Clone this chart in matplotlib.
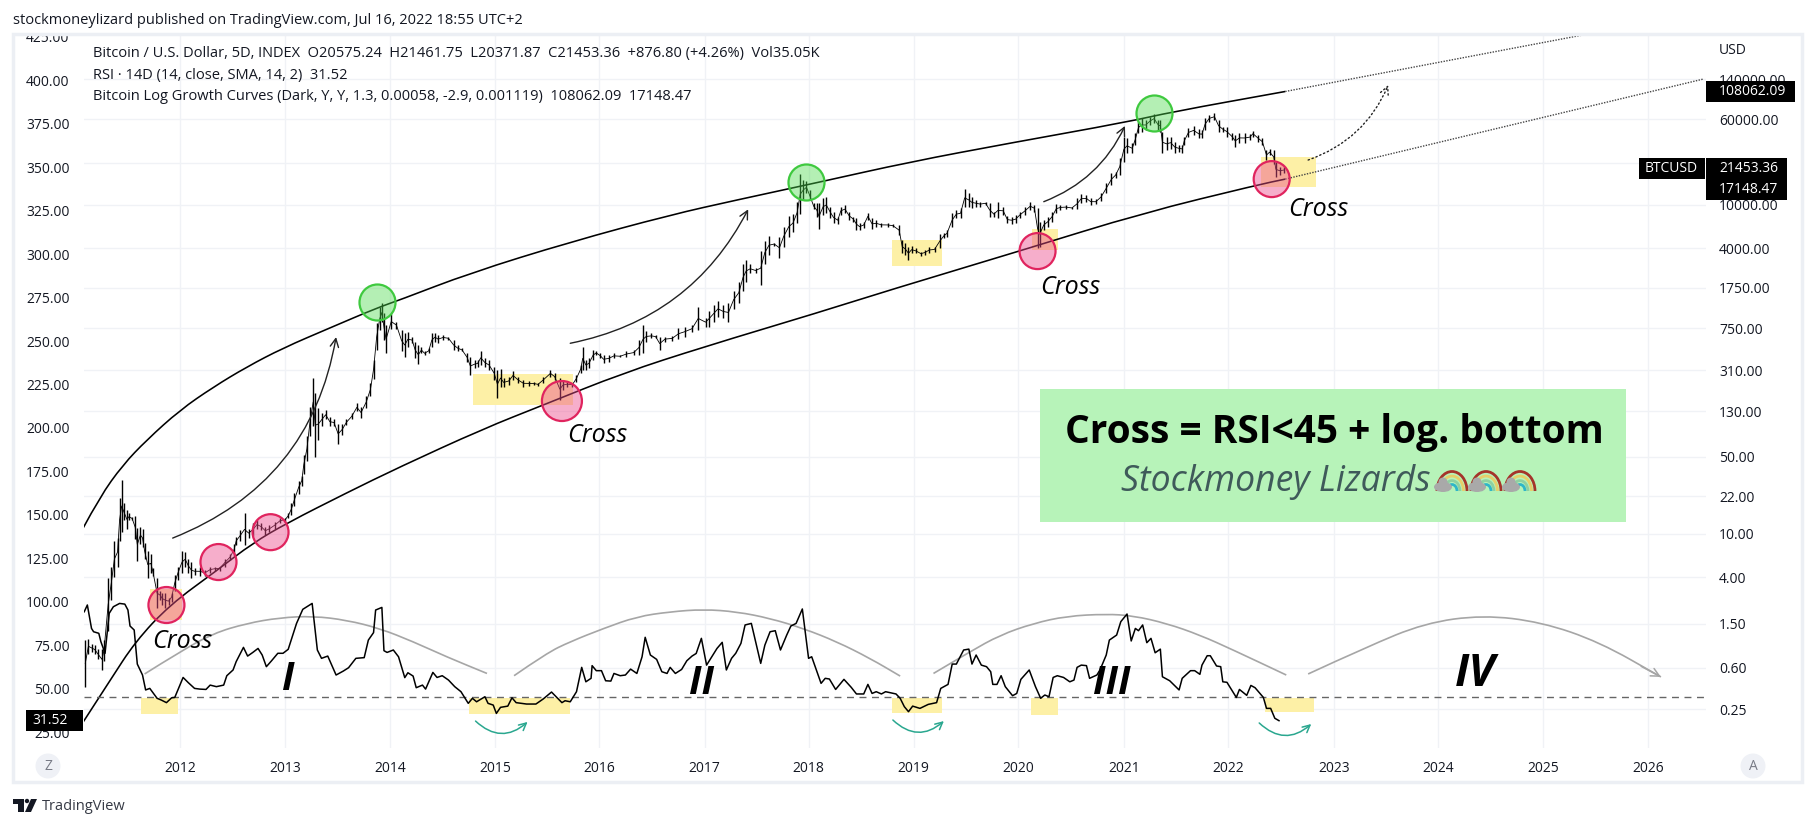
import numpy as np
import matplotlib
matplotlib.use("Agg")
import matplotlib.pyplot as plt
from matplotlib.path import Path
from matplotlib.patches import PathPatch, Rectangle, Circle, Ellipse, Arc, Polygon, FancyArrowPatch
from matplotlib.transforms import IdentityTransform

plt.rcParams['font.family'] = ['Open Sans', 'DejaVu Sans']

# bars: year, high, low (USD)
years_a = [2011.09,2011.12,2011.15,2011.18,2011.21,2011.25,2011.27,2011.31,2011.34,2011.37,2011.40,2011.42,2011.44,2011.46,2011.49,2011.51,2011.54,2011.57,2011.59,2011.62,2011.64,2011.66,2011.69,2011.72,2011.74,2011.78,2011.81,2011.83,2011.86,2011.89,2011.92,2011.95,2011.98,2012.02,2012.05,2012.08,2012.11,2012.14,2012.19,2012.24,2012.29,2012.34,2012.38,2012.43,2012.48,2012.52,2012.54,2012.58,2012.62,2012.66,2012.70,2012.74,2012.78,2012.82,2012.86,2012.91,2012.96,2013.01,2013.04,2013.07,2013.10,2013.14,2013.17,2013.19,2013.22,2013.25,2013.28,2013.30,2013.33,2013.36,2013.40,2013.44,2013.48,2013.52,2013.56,2013.60,2013.65,2013.70,2013.74,2013.79,2013.83,2013.86,2013.89,2013.92,2013.94,2013.96,2013.98,2014.03,2014.08]
high_a = [1.07,1.1,0.99,0.96,0.89,0.89,1.07,3.9,5.0,8.6,9.2,21,31,19,16.5,15.3,14.2,14.5,11.3,11.6,11,8.2,7,6.5,4.9,3.9,3.0,2.9,2.9,2.6,2.9,4.2,5.0,6.9,6.8,5.9,5.5,4.9,5,4.7,5,5,5,5.9,6.5,8.1,9.4,10.8,15.3,11.1,12.4,13.3,12.4,11.5,11.9,12.8,13.8,14,15.3,19,23.6,30.5,33.7,52,78,143,265,190,139,125,134,116,112,100,100,110,125,155,143,180,237,380,830,1170,1260,1020,800,1000,860]
low_a = [0.40,0.80,0.83,0.8,0.72,0.57,0.69,1.3,2.5,4.0,5,8.6,10.3,13.3,11,13.3,13.3,9,5.6,8.1,7.6,5.9,3.9,4.4,4.1,2.1,2.5,2.25,2.1,2.25,2.4,3.0,3.8,4.4,5,4.4,3.9,4.2,4.1,4.1,4.4,4.6,4.6,5,5.7,6.3,7.8,8.6,7.8,9.2,9.5,11,10.8,9.8,10.3,11.1,12.4,12.8,13.8,14.7,17.7,22.8,27.3,35,45.5,78,95,50,72,95,110,95,95,66,80,98,110,130,113,140,180,260,470,720,860,580,440,740,740]

years_b = [2014.13,2014.16,2014.19,2014.23,2014.26,2014.29,2014.32,2014.35,2014.39,2014.42,2014.45,2014.48,2014.53,2014.58,2014.63,2014.67,2014.71,2014.76,2014.79,2014.83,2014.86,2014.89,2014.93,2014.97,2015.02,2015.05,2015.08,2015.11,2015.16,2015.20,2015.25,2015.30,2015.35,2015.40,2015.44,2015.49,2015.56,2015.60,2015.65,2015.68,2015.72,2015.77,2015.81,2015.85,2015.87,2015.90,2015.93,2015.97,2016.00,2016.04,2016.07,2016.12,2016.17,2016.23,2016.29,2016.36,2016.41,2016.45,2016.48,2016.53,2016.57,2016.61,2016.66,2016.73,2016.79,2016.85,2016.92,2016.98,2017.05,2017.08,2017.13,2017.17,2017.22,2017.27,2017.32,2017.37,2017.41,2017.44,2017.48,2017.53,2017.58,2017.62,2017.66,2017.71,2017.76,2017.80,2017.85,2017.89,2017.93,2017.96,2017.99,2018.02,2018.05,2018.09,2018.12]
high_b = [720,671,695,626,565,525,507,459,490,671,680,650,650,626,584,525,490,441,411,383,383,467,397,383,333,311,315,262,270,305,270,252,248,243,238,270,311,290,262,252,243,238,280,345,507,383,397,473,467,441,425,425,441,425,467,473,584,800,700,670,650,620,626,635,745,772,800,1170,935,1080,1210,1330,1210,1260,1640,1980,2870,3130,2870,2670,3770,4690,5230,4520,5050,6315,7900,8190,10600,19000,17000,16400,13600,10300,10300]
low_b = [459,411,507,544,397,350,441,425,441,507,565,544,584,584,473,459,459,370,278,322,333,345,333,311,252,171,219,219,226,252,235,219,222,226,222,235,270,252,165,204,219,219,243,290,311,311,322,383,425,397,357,370,397,405,405,425,425,441,565,605,605,473,565,575,595,626,685,720,772,760,860,950,935,860,1130,1260,1640,1980,2370,2370,1850,2870,3500,4250,3250,4160,5050,5650,6800,8190,11000,12700,11000,9100,7700]

years_c = [2018.14,2018.18,2018.21,2018.25,2018.28,2018.32,2018.35,2018.39,2018.43,2018.47,2018.50,2018.53,2018.57,2018.61,2018.65,2018.69,2018.74,2018.80,2018.85,2018.91,2018.94,2018.97,2019.00,2019.03,2019.07,2019.12,2019.16,2019.20,2019.25,2019.30,2019.34,2019.37,2019.42,2019.46,2019.50,2019.54,2019.58,2019.61,2019.65,2019.69,2019.74,2019.78,2019.82,2019.86,2019.91,2019.95,2019.99,2020.03,2020.07,2020.12,2020.17,2020.21,2020.24,2020.26,2020.30,2020.34,2020.38,2020.42,2020.46,2020.51,2020.57,2020.62,2020.66,2020.71,2020.75,2020.80,2020.85,2020.90,2020.95,2020.99,2021.03,2021.07,2021.10,2021.15,2021.18,2021.21,2021.24,2021.28,2021.32,2021.36,2021.40,2021.42,2021.44,2021.48,2021.52,2021.56,2021.60,2021.63,2021.65,2021.69,2021.74,2021.79,2021.82,2021.85,2021.89,2021.94,2021.98,2022.02,2022.06,2022.11,2022.14,2022.18,2022.23,2022.28,2022.31,2022.36,2022.40,2022.44,2022.47,2022.51,2022.53,2022.57,2022.61]
high_c = [10320,11460,11870,9620,8660,7800,9620,9970,8660,7800,7530,6780,7020,8480,7530,7270,6880,6780,6650,6500,4780,4450,4150,4200,4000,3740,3870,4150,4100,5400,5490,5890,8360,8970,9300,13900,12730,11870,11070,10700,10700,10320,8660,10500,9620,7930,7800,8070,8660,9620,10500,9970,9300,7020,7270,7800,8660,10150,9970,9970,9620,11460,12500,12200,11460,11200,12730,15700,19370,20000,26540,41850,40400,36390,44880,57300,61500,59400,63000,67400,59400,59400,46500,41250,41850,37700,35100,35100,41850,49900,52500,48700,48100,61500,65800,68200,59400,51600,51600,44880,43400,44880,45500,44000,47400,43400,40400,31600,32100,31600,24750,22300,22300]
low_c = [5950,8070,8360,7530,6780,6700,8070,8360,7270,7020,5890,5890,6100,7270,5950,6320,6250,6320,6250,5300,3610,3490,3140,3610,3610,3430,3490,3610,3740,4000,4950,5120,6320,7530,7530,9620,9620,9300,9620,9620,9970,7800,7800,7530,8070,6780,6700,6780,7530,8070,8970,8660,4000,4150,5890,6320,7020,8360,8970,9100,9100,9100,10320,10700,9970,10150,10900,12730,15100,17400,18700,24750,29480,29480,35140,44880,46500,48100,53500,55400,48100,46500,29800,31400,32500,29800,30500,29800,35100,41850,43400,40400,40400,48100,57300,59400,46500,46500,41850,39020,33700,37000,36400,39020,41850,37700,35100,25600,28500,23550,17900,18700,19370]

bar_years = years_a + years_b + years_c
bar_high = high_a + high_b + high_c
bar_low = low_a + low_b + low_c

rsi_points = [(2011.08,94.2),(2011.11,98.1),(2011.15,84.6),(2011.17,82.7),(2011.22,81.8),(2011.24,77),(2011.28,70.3),(2011.30,81.8),(2011.32,93.3),(2011.36,97.1),(2011.42,99),(2011.47,98.6),(2011.50,95.2),(2011.52,86),(2011.56,83.7),(2011.59,64.1),(2011.64,57.8),(2011.67,49.2),(2011.71,50.1),(2011.78,44.4),(2011.82,43.4),(2011.87,41.9),(2011.92,44.7),(2011.95,44.9),(2011.98,49.2),
              (2012.03,56.4),(2012.08,53.4),(2012.14,50.1),(2012.19,49.7),(2012.25,49.5),(2012.29,52),(2012.35,51.1),(2012.42,52),(2012.45,57.4),(2012.51,60.7),(2012.54,65.5),(2012.61,73.7),(2012.65,68.7),(2012.70,70.8),(2012.75,73.1),(2012.79,69.3),(2012.83,62.6),(2012.88,66),(2012.94,70.3),(2012.99,70.3),
              (2013.04,72.6),(2013.09,81.8),(2013.12,87.5),(2013.18,95.6),(2013.27,99),(2013.32,72.2),(2013.36,67.4),(2013.42,68.7),(2013.50,57.8),(2013.57,60.1),(2013.62,62),(2013.69,67.4),(2013.77,67.8),(2013.81,77.9),(2013.86,82.2),(2013.88,95.2),(2013.94,96.7),(2013.96,71.8),(2013.99,70.8),
              (2014.05,72.2),(2014.10,68.3),(2014.16,56.3),(2014.19,59.1),(2014.24,57.2),(2014.27,50.5),(2014.33,52),(2014.36,49.7),(2014.43,59.3),(2014.47,56.4),(2014.52,57.4),(2014.58,54.9),(2014.64,51.1),(2014.70,48.2),(2014.77,41.5),(2014.81,44.4),(2014.85,42.4),(2014.93,45.3),(2014.96,41.5),
              (2015.01,40.5),(2015.04,35.7),(2015.08,39.2),(2015.15,39.9),(2015.19,44.7),(2015.23,41.9),(2015.33,41.1),(2015.42,41.1),(2015.49,44),(2015.57,48),(2015.67,41.9),(2015.70,43),(2015.75,42.4),(2015.81,48.2),(2015.86,62.2),(2015.90,53.9),(2015.95,55.9),(2015.96,63.2),
              (2016.00,60.3),(2016.05,60.3),(2016.09,54.5),(2016.14,54.3),(2016.17,58.7),(2016.23,57.4),(2016.28,57.8),(2016.33,61.2),(2016.39,58.7),(2016.44,68.3),(2016.47,79.5),(2016.52,69.3),(2016.58,66.8),(2016.63,59.7),(2016.68,58.7),(2016.71,62.2),(2016.76,58.7),(2016.82,61),(2016.87,66),(2016.92,68.7),(2016.96,70.2),
              (2017.01,78.9),(2017.06,63.5),(2017.16,73.1),(2017.21,76.6),(2017.25,60.7),(2017.30,67.4),(2017.34,70.3),(2017.39,76),(2017.43,86.6),(2017.49,87.5),(2017.58,64.5),(2017.62,75),(2017.67,82.7),(2017.72,83.3),(2017.77,72.2),(2017.83,80.8),(2017.87,86),(2017.92,87.5),(2017.98,95.8),
              (2018.04,67.4),(2018.07,68.3),(2018.16,53),(2018.20,55.9),(2018.24,55.5),(2018.30,49.5),(2018.38,55.3),(2018.45,50.7),(2018.50,46.9),(2018.57,46.9),(2018.61,52.4),(2018.65,47.2),(2018.69,48.2),(2018.74,46.9),(2018.78,48.2),(2018.88,46.9),(2018.92,44.4),(2018.96,39.6),
              (2019.00,36.7),(2019.04,39.9),(2019.11,38.6),(2019.19,40.9),(2019.27,41.9),(2019.31,50.1),(2019.38,52.4),(2019.42,64.1),(2019.46,64.1),(2019.53,72.2),(2019.58,72.7),(2019.61,64.1),(2019.65,69.3),(2019.70,63.5),(2019.75,62.6),(2019.79,59.7),(2019.81,52.4),(2019.85,52.4),(2019.89,57.4),(2019.93,51.1),
              (2020.00,45.9),(2020.04,47.2),(2020.08,55.3),(2020.16,60.7),(2020.22,51.1),(2020.27,44.4),(2020.31,46.3),(2020.35,45.3),(2020.39,56.4),(2020.43,57.4),(2020.49,56.4),(2020.55,53.9),(2020.59,54.9),(2020.62,62.2),(2020.66,63.5),(2020.71,63.2),(2020.74,55.9),(2020.81,57.8),(2020.84,60.7),(2020.90,69.3),(2020.93,77.9),
              (2021.00,80.8),(2021.04,88.5),(2021.10,92.9),(2021.14,77.4),(2021.18,84.6),(2021.21,83.3),(2021.25,86.6),(2021.29,76.4),(2021.33,78.9),(2021.37,70.6),(2021.42,72.7),(2021.44,56.8),(2021.51,54.5),(2021.60,49.2),(2021.63,55.9),(2021.71,60.3),(2021.75,60.3),(2021.80,58.2),(2021.82,63.5),(2021.87,68.9),(2021.90,68.9),(2021.96,63),
              (2022.00,62.6),(2022.02,53.9),(2022.06,53.6),(2022.15,44.9),(2022.18,49.5),(2022.25,46.1),(2022.29,51.8),(2022.33,50.5),(2022.41,44.9),(2022.44,38.6),(2022.48,38.6),(2022.52,32.9),(2022.56,31.52)]
rsi_level = 45

# log growth curves
upper_years = [2011.07,2011.23,2011.45,2011.68,2012.00,2012.32,2012.64,2012.99,2013.44,2013.89,2014.11,2014.79,2015.75,2016.71,2017.35,2018.15,2019.01,2019.98,2021.10,2021.53,2022.62]
upper_usd = [11.25,21.6,42.2,71.4,134,217,331,493,752,1143,1352,2388,4574,8070,11060,16140,24550,36600,56900,70300,108062]
lower_years = [2011.07,2011.33,2011.57,2011.90,2012.36,2012.70,2013.03,2013.60,2014.11,2014.91,2015.49,2016.26,2017.03,2018.15,2018.82,2020.10,2021.25,2022.35,2022.62]
lower_usd = [0.191,0.46,1.03,2.23,4.65,8.2,12.5,23.5,40.5,90,149,292,504,1051,1668,3868,8410,15150,17148]
upper_ext_years = [2022.62, 2025.53]
upper_ext_usd = [108062, 361600]
lower_ext_years = [2022.62, 2026.64]
lower_ext_usd = [17148, 140500]

# circles
green_years = [2013.89, 2018.02, 2021.36]
green_usd = [1297, 16140, 68800]
pink_years = [2011.87, 2012.37, 2012.87, 2015.67, 2020.24, 2022.49]
pink_usd = [2.23, 5.5, 10.3, 162, 3780, 17148]
pink_size = [672, 672, 672, 829, 672, 672]

# yellow zones: start, end, low, high
price_zones = [(2011.71, 2012.02, 1.63, 3.1), (2014.82, 2015.78, 149, 286), (2018.84, 2019.32, 2762, 4770),
               (2020.19, 2020.44, 3868, 6010), (2022.39, 2022.92, 14500, 27300)]
rsi_zones = [(2011.63, 2011.98, 35.4, 44.6), (2014.78, 2015.75, 35.4, 44.6), (2018.84, 2019.32, 36, 44.6),
             (2020.18, 2020.44, 35, 44.6), (2022.43, 2022.90, 36.5, 44.6)]

# grey arcs over the rsi
arc1_x = [2011.66,2012.00,2012.32,2012.64,2012.96,2013.28,2013.60,2013.92,2014.24,2014.56,2014.95]
arc1_y = [58.4,71.2,81.8,87.5,90.8,91.7,89.4,84.6,77,68.3,58.7]
arc2_x = [2015.21,2015.52,2015.75,2016.07,2016.39,2016.71,2017.03,2017.35,2017.67,2017.99,2018.31,2018.63,2018.92]
arc2_y = [57.4,70.3,77,84.6,91.4,94.2,95.6,94.2,90.4,84.6,77,67.4,57.2]
arc3_x = [2019.24,2019.59,2019.88,2020.20,2020.52,2020.90,2021.16,2021.48,2021.80,2022.12,2022.63]
arc3_y = [58.7,71.2,80.8,87.5,91.7,92.9,91.9,87.5,80.8,72.2,57.8]
arc4_x = [2022.84,2023.40,2023.96,2024.52,2025.08,2025.64,2026.23]
arc4_y = [58.4,73.9,87.7,92.3,88.3,76.8,56.7]

# teal swoops under the rsi zones
swoop_start = [(2014.84, 31.3), (2018.85, 31.9), (2022.37, 30.2)]
swoop_end = [(2015.34, 30.8), (2019.34, 31.3), (2022.87, 29.6)]

# hand drawn trend arrows
trend_start = [(2011.93, 9.1), (2015.75, 545), (2020.30, 10670), (2022.84, 25600)]
trend_end = [(2013.50, 621), (2017.46, 9100), (2021.08, 52400), (2023.61, 123900)]
trend_rad = [0.28, 0.24, 0.2, 0.22]

# the time axis is not quite even, so ticks sit where the chart puts them
year_labels = list(range(2012, 2027))
year_tick_pos = [2012.0,2013.01,2014.02,2015.03,2016.03,2017.04,2018.04,2019.05,2020.05,2021.07,2022.07,2023.09,2024.09,2025.10,2026.11]
rsi_ticks = list(range(25, 426, 25))
price_ticks = [0.25, 0.6, 1.5, 4, 10, 22, 50, 130, 310, 750, 1750, 4000, 10000, 24000, 60000, 140000]

W, H = 1814, 827
fig = plt.figure(figsize=(W / 100, H / 100), dpi=100, facecolor='white')
ink = '#131722'

# plot area in pixels: 83.5..1706 x 34.5..748
ax = fig.add_axes([83.5 / W, 1 - 748 / H, (1706 - 83.5) / W, (748 - 34.5) / H])
rsi = ax.twinx()
ax.set_yscale('log')
ax.set_xlim(2011.073, 2026.663)
ax.set_ylim(0.1106, 357800)
ax.yaxis.tick_right()
ax.set_yticks(price_ticks)
ax.set_yticklabels(['%.2f' % t for t in price_ticks])
ax.minorticks_off()
ax.set_xticks(year_tick_pos)
ax.set_xticklabels([str(y) for y in year_labels])
ax.tick_params(axis='y', length=0, pad=9.4, labelsize=10, labelcolor=ink)
ax.tick_params(axis='x', length=0, pad=9, labelsize=10, labelcolor=ink)
ax.grid(True, color='#f0f2f6', lw=1)
ax.set_axisbelow(True)
for s in ax.spines.values():
    s.set_visible(False)

rsi.set_ylim(15.8, 426.4)
rsi.yaxis.tick_left()
rsi.set_yticks(rsi_ticks)
rsi.set_yticklabels(['%.2f' % t for t in rsi_ticks])
rsi.tick_params(axis='y', length=0, pad=10, labelsize=10, labelcolor=ink)
rsi.patch.set_visible(False)
for s in rsi.spines.values():
    s.set_visible(False)


def curve(target, xs, ys, **kw):
    # smooth line through read points, drawn in screen space so log axes are fine
    pts = target.transData.transform(np.column_stack([xs, ys]))
    verts = [pts[0]]
    codes = [Path.MOVETO]
    for i in range(1, len(pts) - 1):
        verts += [pts[i], (pts[i] + pts[i + 1]) / 2]
        codes += [Path.CURVE3, Path.CURVE3]
    verts += [pts[-1]]
    codes += [Path.LINETO]
    patch = PathPatch(Path(np.array(verts), codes), fill=False, transform=IdentityTransform(), **kw)
    target.add_patch(patch)
    return patch


for x0, x1, lo, hi in price_zones:
    ax.add_patch(Rectangle((x0, lo), x1 - x0, hi - lo, color='#fdf0a6', lw=0, zorder=1))
for x0, x1, lo, hi in rsi_zones:
    rsi.add_patch(Rectangle((x0, lo), x1 - x0, hi - lo, color='#fdf0a6', lw=0, zorder=1))

# price bars
ax.vlines(bar_years, bar_low, bar_high, color='black', lw=1.0, zorder=3)
mid_price = np.sqrt(np.array(bar_high) * np.array(bar_low))
ax.plot(bar_years, mid_price, color='black', lw=0.6, zorder=3)

curve(ax, upper_years, upper_usd, color='black', lw=1.15, zorder=4)
curve(ax, lower_years, lower_usd, color='black', lw=1.15, zorder=4)
ax.plot(upper_ext_years, upper_ext_usd, color='#444444', lw=1, ls=(0, (1, 1)), zorder=4)
ax.plot(lower_ext_years, lower_ext_usd, color='#444444', lw=1, ls=(0, (1, 1)), zorder=4)

ax.scatter(green_years, green_usd, s=672, facecolor=(0.30, 0.85, 0.30, 0.42), edgecolor='#3fc93f', lw=1.6, zorder=5)
ax.scatter(pink_years, pink_usd, s=pink_size, facecolor=(0.93, 0.30, 0.55, 0.45), edgecolor='#e0245e', lw=1.6, zorder=5)

for i in range(4):
    dotted = i == 3
    ax.add_patch(FancyArrowPatch(trend_start[i], trend_end[i], connectionstyle='arc3,rad=%.2f' % trend_rad[i],
                                 arrowstyle='->', mutation_scale=15, color='#222222', lw=1.0, shrinkA=0, shrinkB=0,
                                 ls=(0, (1, 2)) if dotted else '-', zorder=6))

# rsi panel
rsi_years = [p[0] for p in rsi_points]
rsi_values = [p[1] for p in rsi_points]
rsi.axhline(rsi_level, color='#666666', lw=1.0, ls=(0, (5, 4)), zorder=2)
for xs, ys in [(arc1_x, arc1_y), (arc2_x, arc2_y), (arc3_x, arc3_y), (arc4_x, arc4_y)]:
    curve(rsi, xs, ys, color='#a6a6a6', lw=1.2, zorder=3)
rsi.annotate('', xy=(arc4_x[-1], arc4_y[-1]), xytext=(arc4_x[-2] + 0.4, arc4_y[-2] - 14),
             arrowprops=dict(arrowstyle='->', color='#a6a6a6', lw=1.1, mutation_scale=15, shrinkA=0, shrinkB=0))
rsi.plot(rsi_years, rsi_values, color='black', lw=1.1, zorder=4)
for a, b in zip(swoop_start, swoop_end):
    rsi.add_patch(FancyArrowPatch(a, b, connectionstyle='arc3,rad=0.45', arrowstyle='->', mutation_scale=13,
                                  color='#2aa78f', lw=1.1, shrinkA=0, shrinkB=0, zorder=5))

# page chrome, notes and badges in pixel space
ov = fig.add_axes([0, 0, 1, 1], zorder=10)
ov.set_xlim(0, W)
ov.set_ylim(H, 0)
ov.axis('off')
ov.patch.set_visible(False)
ov.add_patch(Rectangle((0, 0), W, 33, color='white', lw=0))
ov.add_patch(Rectangle((13, 34), 1789, 748, fill=False, edgecolor='#eceff4', lw=2.5))

ov.text(13, 20, 'stockmoneylizard published on TradingView.com, Jul 16, 2022 18:55 UTC+2', fontsize=10.5, color=ink, va='center')
ov.text(93, 54, 'Bitcoin / U.S. Dollar, 5D, INDEX  O20575.24  H21461.75  L20371.87  C21453.36  +876.80 (+4.26%)  Vol35.05K',
        fontsize=10.5, color=ink, va='center')
ov.text(93, 75, 'RSI · 14D (14, close, SMA, 14, 2)  31.52', fontsize=10.5, color=ink, va='center')
ov.text(93, 96, 'Bitcoin Log Growth Curves (Dark, Y, Y, 1.3, 0.00058, -2.9, 0.001119)  108062.09  17148.47',
        fontsize=10.5, color=ink, va='center')
ov.text(1719, 50, 'USD', fontsize=10, color=ink, va='center')

for label, x, y in [('Cross', 152, 642), ('Cross', 567, 436), ('Cross', 1040, 287), ('Cross', 1288, 210)]:
    ov.text(x, y, label, fontsize=18, style='italic', color='black', va='center')
for label, x, y, size in [('I', 288, 680, 28), ('II', 701, 684, 28), ('III', 1112, 684, 28), ('IV', 1475, 674, 32)]:
    ov.text(x, y, label, fontsize=size, style='italic', fontweight='bold', color='black', ha='center', va='center')

ov.add_patch(Rectangle((1040, 389), 586, 133, color='#b7f3b9', lw=0))
ov.text(1334, 433, 'Cross = RSI<45 + log. bottom', fontsize=28, fontweight='bold', color='black', ha='center', va='center')
ov.text(1121, 482, 'Stockmoney Lizards', fontsize=25.6, style='italic', color='#3f5a5a', va='center')

# rainbow with cloud, three times
for cx in [1449, 1483, 1517]:
    for r, col in [(30, '#a5342a'), (23, '#e6cf6a'), (16, '#8fd0a0'), (10, '#2fb6c8')]:
        ov.add_patch(Arc((cx + 3, 491), r, r * 1.3, theta1=180, theta2=360, color=col, lw=2))
    ov.add_patch(Ellipse((cx - 6, 487), 18, 10, color='#a9a9a9', lw=0))
    ov.add_patch(Ellipse((cx - 6, 482), 9, 9, color='#a9a9a9', lw=0))

for x, y, w, h, label, tx in [(1706, 81, 89, 21, '108062.09', 1719), (1639, 158, 66, 21, 'BTCUSD', 1645),
                              (1706, 158, 81, 21, '21453.36', 1719), (1706, 179, 81, 21, '17148.47', 1719),
                              (26, 710, 57, 21, '31.52', 32)]:
    ov.add_patch(Rectangle((x, y), w, h, color='black', lw=0))
    ov.text(tx, y + h / 2, label, fontsize=10, color='white', va='center')

for cx, letter in [(48, 'Z'), (1753, 'A')]:
    ov.add_patch(Ellipse((cx, 766), 25, 25, color='#eff1f6', lw=0))
    ov.text(cx, 766, letter, fontsize=10, color='#787b86', ha='center', va='center')

# TradingView logo
ov.add_patch(Rectangle((13, 799), 11, 5, color=ink, lw=0))
ov.add_patch(Rectangle((18, 804), 6, 8, color=ink, lw=0))
ov.add_patch(Circle((27, 801), 2.2, color=ink, lw=0))
ov.add_patch(Polygon([(25, 812), (31, 812), (37, 799), (31, 799)], color=ink, lw=0))
ov.text(42, 806, 'TradingView', fontsize=10.5, color='#363a45', va='center')

fig.savefig('out.png', dpi=100)
